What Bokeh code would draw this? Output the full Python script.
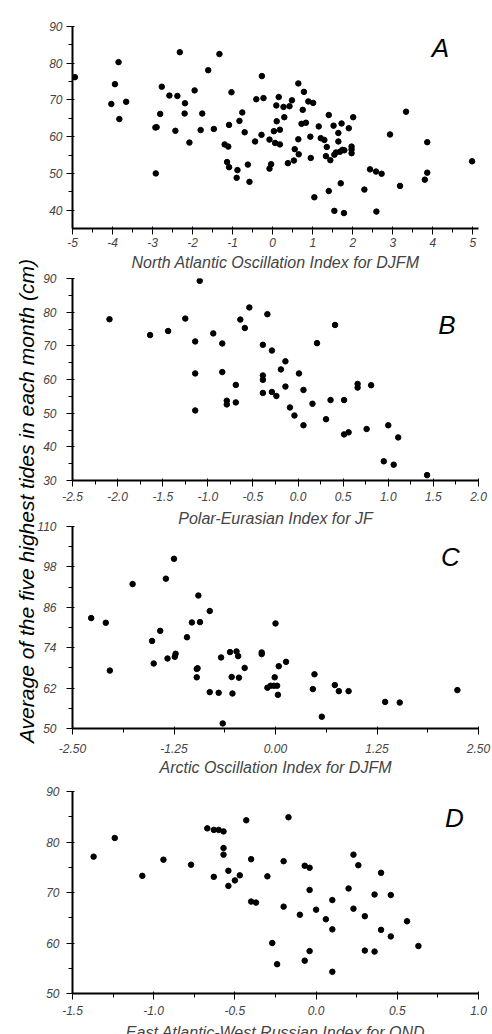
from bokeh.plotting import figure
from bokeh.models import Range1d, FixedTicker, Label, Div
from bokeh.layouts import column
from bokeh.embed import file_html
from bokeh.resources import INLINE

FONT = "Liberation Sans"

# ---------------- data ----------------
# Panel A: North Atlantic Oscillation Index for DJFM
nao_index = [-4.94, -3.85, -3.94, -4.03, -3.66, -3.83, -2.93, -2.90, -2.92, -2.81,
             -2.77, -2.58, -2.43, -2.38, -2.32, -2.19, -2.20, -2.08, -1.95, -1.80,
             -1.76, -1.61, -1.47, -1.33, -1.20, -1.11, -1.14, -1.09, -1.09, -1.03,
             -0.90, -0.88, -0.83, -0.76, -0.70, -0.62, -0.58, -0.44, -0.41, -0.27,
             -0.23, -0.28, -0.08, -0.08, -0.04,
             0.64, 0.78, 0.15, 0.48, 0.09, 0.27, 0.42, 0.89, 1.01, 0.75,
             1.40, 2.01, 0.29, 0.10, 0.72, 0.83, 0.18, 0.03, 1.15, 1.52,
             1.72, 1.90, 1.64, 0.06, 0.18, 0.64, 0.94, 1.20, 1.29, 1.64,
             1.35, 0.55, 1.97, 1.97, 1.97, 1.74, 1.79, 1.68, 1.58, 1.54,
             1.33, 1.44, 0.65, 0.53, 0.95, 0.38, 1.04, 1.40, 1.70, 1.54,
             1.78, 2.29, 2.43, 2.58, 2.72, 2.59, 2.93, 3.33, 3.18, 3.86,
             3.86, 3.80, 4.98]
nao_tides = [76.2, 80.3, 74.3, 68.9, 69.5, 64.8, 62.5, 62.6, 50.0, 66.2,
             73.6, 71.2, 61.6, 71.1, 83.0, 69.1, 66.3, 58.4, 72.6, 61.8,
             66.3, 78.1, 62.1, 82.5, 57.9, 57.3, 53.1, 51.7, 63.2, 72.1,
             48.8, 50.9, 64.3, 66.6, 61.2, 52.4, 47.7, 58.7, 70.2, 76.5,
             70.5, 60.5, 59.2, 51.3, 52.5,
             74.5, 72.2, 70.8, 69.9, 68.5, 68.1, 68.3, 69.6, 69.2, 67.3,
             65.9, 65.3, 65.3, 64.2, 63.5, 63.8, 61.9, 61.5, 62.8, 63.0,
             63.6, 62.3, 61.0, 58.3, 57.9, 59.3, 60.0, 59.6, 59.1, 58.7,
             57.2, 56.6, 57.3, 56.5, 55.5, 56.4, 56.3, 55.9, 55.7, 55.1,
             54.7, 53.6, 55.2, 53.5, 54.2, 52.8, 43.5, 45.2, 47.3, 39.8,
             39.2, 45.6, 51.1, 50.5, 49.9, 39.6, 60.6, 66.8, 46.6, 58.5,
             50.2, 48.3, 53.3]

# Panel B: Polar-Eurasian Index for JF
pol_index = [-2.09, -1.64, -1.44, -1.25, -1.14, -1.14, -1.14, -1.09, -0.94, -0.84,
             -0.84, -0.79, -0.79, -0.69, -0.69, -0.64, -0.59, -0.54, -0.39, -0.39,
             -0.39, -0.39, -0.34, -0.29, -0.29, -0.24, -0.19, -0.14, -0.14, -0.09,
             -0.04, 0.01, 0.06, 0.06, 0.16, 0.21, 0.31, 0.36, 0.41, 0.51,
             0.51, 0.56, 0.66, 0.66, 0.81, 0.76, 1.00, 0.95, 1.06, 1.11, 1.43]
pol_tides = [77.9, 73.2, 74.4, 78.1, 71.3, 61.8, 50.8, 89.3, 73.7, 70.7,
             62.2, 53.7, 52.6, 58.4, 53.2, 77.8, 75.3, 81.4, 70.3, 61.2,
             59.9, 56.0, 79.4, 68.6, 56.3, 55.1, 63.0, 65.4, 57.9, 51.7,
             49.3, 61.8, 56.9, 46.4, 52.8, 70.8, 48.2, 53.9, 76.2, 53.9,
             43.7, 44.3, 58.7, 57.6, 58.3, 45.3, 46.4, 35.7, 34.7, 42.8, 31.6]

# Panel C: Arctic Oscillation Index for DJFM
ao_index = [-2.27, -2.09, -2.04, -1.76, -1.52, -1.50, -1.42, -1.35, -1.33, -1.25,
            -1.23, -1.24, -1.09, -1.03, -0.96, -0.97, -0.97, -0.95, -0.93, -0.81,
            -0.81, -0.70, -0.67, -0.65, -0.56, -0.54, -0.53, -0.48, -0.46, -0.45,
            -0.38, -0.17, -0.17, -0.10, -0.06, -0.02, 0.02, -0.01, 0.00, 0.03,
            0.04, 0.13, 0.46, 0.48, 0.57, 0.73, 0.78, 0.90, 1.35, 1.53, 2.24]
ao_tides = [82.8, 81.4, 67.2, 92.9, 76.0, 69.3, 79.0, 94.5, 70.8, 100.4,
            72.2, 71.3, 77.1, 81.5, 67.9, 67.7, 65.2, 89.5, 81.6, 60.8,
            84.9, 60.6, 71.1, 51.5, 72.7, 65.3, 60.4, 72.9, 71.5, 65.1,
            68.0, 72.6, 72.1, 62.1, 62.7, 62.7, 62.7, 65.2, 81.2, 60.0,
            68.5, 69.8, 61.7, 66.1, 53.5, 62.9, 61.1, 61.1, 57.9, 57.7, 61.4]

# Panel D: East Atlantic-West Russian Index for OND
eawr_index = [-1.37, -1.24, -1.07, -0.94, -0.77, -0.67, -0.63, -0.60, -0.57, -0.57,
              -0.57, -0.63, -0.54, -0.54, -0.50, -0.47, -0.43, -0.40, -0.40, -0.37,
              -0.30, -0.27, -0.24, -0.20, -0.20, -0.17, -0.10, -0.07, -0.07, -0.04,
              -0.04, -0.04, 0.00, 0.06, 0.10, 0.10, 0.10, 0.20, 0.23, 0.23,
              0.26, 0.30, 0.30, 0.36, 0.36, 0.40, 0.40, 0.46, 0.46, 0.56, 0.63]
eawr_tides = [77.1, 80.8, 73.3, 76.5, 75.5, 82.7, 82.4, 82.4, 82.1, 78.8,
              77.5, 73.1, 74.3, 71.3, 72.4, 73.4, 84.3, 76.6, 68.2, 68.0,
              73.2, 60.0, 55.8, 76.2, 67.2, 84.9, 65.6, 75.3, 56.5, 74.9,
              70.5, 58.4, 66.6, 64.7, 68.5, 62.7, 54.3, 70.8, 77.5, 66.8,
              75.4, 65.3, 58.5, 69.6, 58.3, 73.9, 62.6, 69.5, 61.3, 64.3, 59.4]

# ticks and tick labels
a_xticks = [-5, -4, -3, -2, -1, 0, 1, 2, 3, 4, 5]
a_xlabels = ["-5", "-4", "-3", "-2", "-1", "0", "1", "2", "3", "4", "5"]
a_xminor = [-4.5, -3.5, -2.5, -1.5, -0.5, 0.5, 1.5, 2.5, 3.5, 4.5]
a_yticks = [40, 50, 60, 70, 80, 90]
a_ylabels = ["40", "50", "60", "70", "80", "90"]
a_yminor = [45, 55, 65, 75, 85]

b_xticks = [-2.5, -2.0, -1.5, -1.0, -0.5, 0.0, 0.5, 1.0, 1.5, 2.0]
b_xlabels = ["-2.5", "-2.0", "-1.5", "-1.0", "-0.5", "0.0", "0.5", "1.0", "1.5", "2.0"]
b_xminor = [-2.25, -1.75, -1.25, -0.75, -0.25, 0.25, 0.75, 1.25, 1.75]
b_yticks = [30, 40, 50, 60, 70, 80, 90]
b_ylabels = ["30", "40", "50", "60", "70", "80", "90"]
b_yminor = [35, 45, 55, 65, 75, 85]

c_xticks = [-2.5, -1.25, 0.0, 1.25, 2.5]
c_xlabels = ["-2.50", "-1.25", "0.00", "1.25", "2.50"]
c_xminor = [-1.875, -0.625, 0.625, 1.875]
c_yticks = [50, 62, 74, 86, 98, 110]
c_ylabels = ["50", "62", "74", "86", "98", "110"]
c_yminor = [56, 68, 80, 92, 104]

d_xticks = [-1.5, -1.0, -0.5, 0.0, 0.5, 1.0]
d_xlabels = ["-1.5", "-1.0", "-0.5", "0.0", "0.5", "1.0"]
d_xminor = [-1.25, -0.75, -0.25, 0.25, 0.75]
d_yticks = [50, 60, 70, 80, 90]
d_ylabels = ["50", "60", "70", "80", "90"]
d_yminor = [55, 65, 75, 85]

y_title = "Average of the five highest tides in each month (cm)"

# all four panels share one canvas geometry; only their offsets differ
PW, PH = 492, 261
BL, BR, BT, BB = 72, 14, 8, 51


def style_axis(ax, ticks, minor, labels, standoff):
    ax.ticker = FixedTicker(ticks=ticks, minor_ticks=minor)
    ax.major_label_overrides = dict(zip(ticks, labels))
    ax.major_label_text_font_size = "12px"
    ax.major_label_text_font_style = "italic"
    ax.major_label_standoff = standoff
    ax.axis_line_width = 2


def make_panel(xs, ys, xr, yr, xt, xm, xl, yt, ym, yl, title, letter, lpos, g):
    p = figure(width=PW, height=PH, x_range=Range1d(*xr), y_range=Range1d(*yr),
               output_backend="svg", toolbar_location=None,
               min_border_left=BL, min_border_right=BR,
               min_border_top=BT, min_border_bottom=BB,
               background_fill_color="white", background_fill_alpha=0.0,
               border_fill_color="white", border_fill_alpha=0.0,
               outline_line_color=None)
    p.margin = g["margin"]
    p.grid.visible = False
    p.scatter(xs, ys, size=5.5, color="black")
    style_axis(p.xaxis[0], xt, xm, xl, g["xls"])
    style_axis(p.yaxis[0], yt, ym, yl, g["yls"])
    xa = p.xaxis[0]
    xa.axis_label = title
    xa.axis_label_text_font_size = "16px"
    xa.axis_label_text_font_style = "italic"
    xa.axis_label_standoff = g["als"]
    p.add_layout(Label(x=lpos[0], y=lpos[1], text=letter, text_font=FONT,
                       text_font_size="26px", text_font_style="italic",
                       text_align="center", text_baseline="middle",
                       text_color="black"))
    return p


pA = make_panel(nao_index, nao_tides, (-5, 5.14), (35, 90),
                a_xticks, a_xminor, a_xlabels, a_yticks, a_yminor, a_ylabels,
                "North Atlantic Oscillation Index for DJFM", "A", (4.19, 84.15),
                dict(margin=(7, 0, 0, 0), xls=3, yls=4, als=4))
pB = make_panel(pol_index, pol_tides, (-2.5, 2.0), (30, 90),
                b_xticks, b_xminor, b_xlabels, b_yticks, b_yminor, b_ylabels,
                "Polar-Eurasian Index for JF", "B", (1.65, 76.3),
                dict(margin=(-9, 0, 0, 0), xls=5, yls=10, als=6))
pC = make_panel(ao_index, ao_tides, (-2.5, 2.5), (50, 110),
                c_xticks, c_xminor, c_xlabels, c_yticks, c_yminor, c_ylabels,
                "Arctic Oscillation Index for DJFM", "C", (2.155, 100.8),
                dict(margin=(-13, 0, 0, 0), xls=9, yls=10, als=3))
pD = make_panel(eawr_index, eawr_tides, (-1.5, 1.0), (50, 90),
                d_xticks, d_xminor, d_xlabels, d_yticks, d_yminor, d_ylabels,
                "East Atlantic-West Russian Index for OND", "D", (0.852, 84.85),
                dict(margin=(4, 0, 0, 0), xls=6, yls=7, als=6))

# shared y-axis title: rotated text anchored in a 1px-high block at the top
ytitle = Div(
    text=('<div style="position:absolute; left:22px; top:496px; '
          'transform:translate(-50%,-50%) rotate(-90deg); white-space:nowrap; '
          "font-family:'Liberation Sans', Arial, sans-serif; font-style:italic; "
          'font-size:21px; color:#000;">' + y_title + '</div>'),
    width=492, height=1,
    styles={"position": "relative", "overflow": "visible"})

layout = column(ytitle, pA, pB, pC, pD)
open("out.html", "w").write(file_html(layout, INLINE, title="Tides vs climate indices"))
